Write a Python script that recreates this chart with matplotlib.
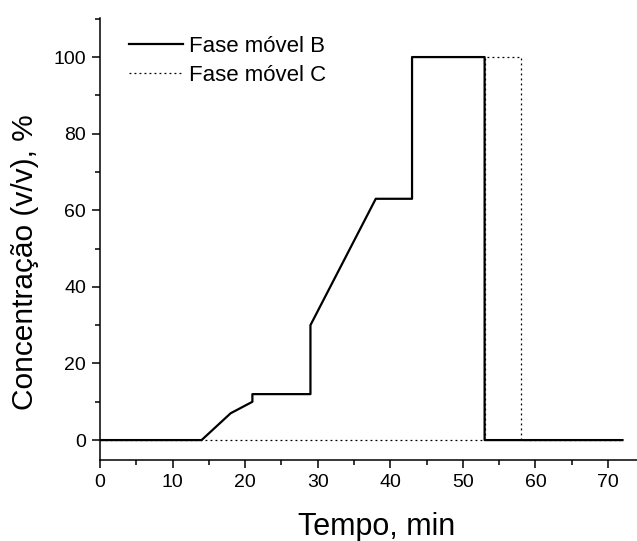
import matplotlib.pyplot as plt
from matplotlib.ticker import MultipleLocator

plt.rcParams['font.family'] = ['Liberation Sans', 'DejaVu Sans']

# Gradient program (time in min, concentration in % v/v)
tempo_b = [0, 14, 18, 21, 21, 29, 29, 38, 43, 43, 53, 53, 72]
conc_b = [0, 0, 7, 10, 12, 12, 30, 63, 63, 100, 100, 0, 0]

tempo_c = [0, 53, 53, 58, 58, 72]
conc_c = [0, 0, 100, 100, 0, 0]

fig = plt.figure(figsize=(6.37, 5.41), dpi=100)
ax = fig.add_axes([100 / 637, 1 - 460 / 541, 537 / 637, 442 / 541])

ax.plot(tempo_c, conc_c, color='black', linewidth=0.9, linestyle=(0, (1.5, 2.5)),
        label='Fase móvel C', zorder=2)
ax.plot(tempo_b, conc_b, color='black', linewidth=1.6, label='Fase móvel B', zorder=3)

ax.set_xlim(0, 74)
ax.set_ylim(-5.2, 110.2)

ax.xaxis.set_major_locator(MultipleLocator(10))
ax.xaxis.set_minor_locator(MultipleLocator(5))
ax.yaxis.set_major_locator(MultipleLocator(20))
ax.yaxis.set_minor_locator(MultipleLocator(10))
ax.set_yticks(range(0, 101, 20))

for side in ['top', 'right']:
    ax.spines[side].set_visible(False)
for side in ['left', 'bottom']:
    ax.spines[side].set_linewidth(1.1)

ax.tick_params(which='major', direction='out', length=6, width=1.1, labelsize=14, pad=4)
ax.tick_params(which='minor', direction='out', length=3.5, width=1.1)

ax.set_xlabel('Tempo, min', fontsize=22)
ax.xaxis.set_label_coords(0.516, -0.117)
ax.set_ylabel('Concentração (v/v), %', fontsize=21.5)
ax.yaxis.set_label_coords(-0.114, 0.448)

handles, labels = ax.get_legend_handles_labels()
ax.legend(handles[::-1], labels[::-1], loc='upper left', bbox_to_anchor=(0.054, 0.96),
          frameon=False, fontsize=16, handlelength=2.45, handletextpad=0.23,
          labelspacing=0.38, borderpad=0, borderaxespad=0)

fig.savefig('out.png', dpi=100)
